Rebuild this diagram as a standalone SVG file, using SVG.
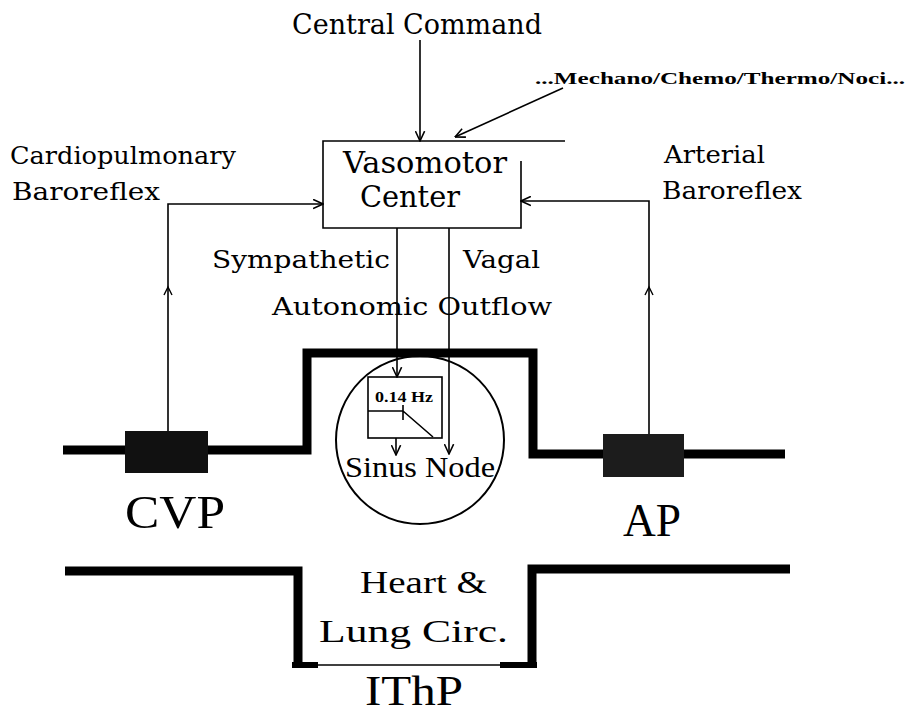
<svg xmlns="http://www.w3.org/2000/svg" width="911" height="714" viewBox="0 0 911 714" font-family="'Liberation Serif', 'DejaVu Serif', 'Times New Roman', serif">
<defs>
<marker id="arr" viewBox="0 0 10 10" refX="9.5" refY="5" markerWidth="11" markerHeight="11" markerUnits="userSpaceOnUse" orient="auto">
<path d="M0.5,0.8 L9.5,5 L0.5,9.2" fill="none" stroke="#000" stroke-width="1.4"/>
</marker>
</defs>
<style>
text{font-family:'Liberation Serif','DejaVu Serif','Times New Roman',serif;fill:#000}
.w{font-family:'DejaVu Serif','Liberation Serif',serif}
.t{font-size:25px}
.big{font-size:46px}
.thin{fill:none;stroke:#000;stroke-width:1.6}
.conn{fill:none;stroke:#000;stroke-width:1.6;marker-end:url(#arr)}
.thick{fill:none;stroke:#000;stroke-width:9;stroke-linejoin:miter;stroke-linecap:butt}
.head{fill:none;stroke:#000;stroke-width:1.4}
</style>
<rect width="911" height="714" fill="#fff"/>

<g id="central-command">
<text class="w" x="292" y="34" font-size="27" textLength="250" lengthAdjust="spacingAndGlyphs">Central Command</text>
</g>
<g id="receptors">
<text x="535" y="84" font-size="17" font-weight="bold" textLength="370" lengthAdjust="spacingAndGlyphs">...Mechano/Chemo/Thermo/Noci...</text>
</g>
<g id="vasomotor-center">
<path class="thin" d="M565,141 H323 V228 H521 V161" stroke-width="2"/>
<text class="w" x="343" y="173" font-size="29" textLength="164" lengthAdjust="spacingAndGlyphs">Vasomotor</text>
<text class="w" x="360" y="207" font-size="29" textLength="100" lengthAdjust="spacingAndGlyphs">Center</text>
</g>
<g id="cardiopulmonary-label">
<text class="w t" x="10" y="164" textLength="226" lengthAdjust="spacingAndGlyphs">Cardiopulmonary</text>
<text class="w t" x="12" y="200" textLength="148" lengthAdjust="spacingAndGlyphs">Baroreflex</text>
</g>
<g id="arterial-label">
<text class="w t" x="664" y="163" textLength="101" lengthAdjust="spacingAndGlyphs">Arterial</text>
<text class="w t" x="662" y="199" textLength="140" lengthAdjust="spacingAndGlyphs">Baroreflex</text>
</g>
<g id="outflow-labels">
<text class="w t" x="212" y="268" textLength="178" lengthAdjust="spacingAndGlyphs">Sympathetic</text>
<text class="w t" x="463" y="268" textLength="77" lengthAdjust="spacingAndGlyphs">Vagal</text>
<text class="w t" x="272" y="315" textLength="280" lengthAdjust="spacingAndGlyphs">Autonomic Outflow</text>
</g>
<g id="vessels">
<path class="thick" d="M63,450 H307 V353 H533 V454 H785"/>
<path class="thick" d="M65,571 H298 V662"/>
<path class="thick" d="M532,662 V569 H790"/>
<rect x="292" y="662" width="26" height="6" fill="#000"/>
<rect x="500" y="662" width="37" height="6" fill="#000"/>
<line x1="318" y1="665" x2="500" y2="665" stroke="#000" stroke-width="1.5"/>
</g>
<g id="cvp">
<rect x="125" y="431" width="83" height="42" fill="#111"/>
<text class="big" x="125" y="528" textLength="100" lengthAdjust="spacingAndGlyphs">CVP</text>
</g>
<g id="ap">
<rect x="603" y="434" width="81" height="43" fill="#1c1c1c"/>
<text class="big" x="623" y="536" font-size="45" textLength="58" lengthAdjust="spacingAndGlyphs">AP</text>
</g>
<g id="sinus-node">
<circle cx="420" cy="440" r="84" fill="none" stroke="#000" stroke-width="2"/>
<text x="345" y="477" font-size="30" textLength="150" lengthAdjust="spacingAndGlyphs">Sinus Node</text>
</g>
<g id="filter">
<rect x="368" y="377" width="74" height="61" fill="none" stroke="#000" stroke-width="1.6"/>
<text x="375" y="402" font-size="14" font-weight="bold" textLength="58" lengthAdjust="spacingAndGlyphs">0.14 Hz</text>
<path class="thin" d="M368,411 H403 M403,405 V420 M403,411 L433,437"/>
</g>
<g id="heart-lung">
<text x="360" y="593" font-size="32" textLength="127" lengthAdjust="spacingAndGlyphs">Heart &amp;</text>
<text x="319" y="642" font-size="32" textLength="189" lengthAdjust="spacingAndGlyphs">Lung Circ.</text>
</g>
<g id="ithp">
<text x="365" y="705" font-size="43" textLength="98" lengthAdjust="spacingAndGlyphs">IThP</text>
</g>
<g id="connectors">
<path class="conn" d="M420,40 V141"/>
<path class="conn" d="M563,88 L455,137"/>
<path class="conn" d="M168,431 V204 H323"/>
<path class="head" d="M164,295 L168,287 L172,295"/>
<path class="conn" d="M649,434 V201 H521"/>
<path class="head" d="M645,295 L649,287 L653,295"/>
<path class="conn" d="M397,228 V377"/>
<path class="conn" d="M449,228 V454"/>
<path class="conn" d="M396,438 V455"/>
</g>
</svg>
